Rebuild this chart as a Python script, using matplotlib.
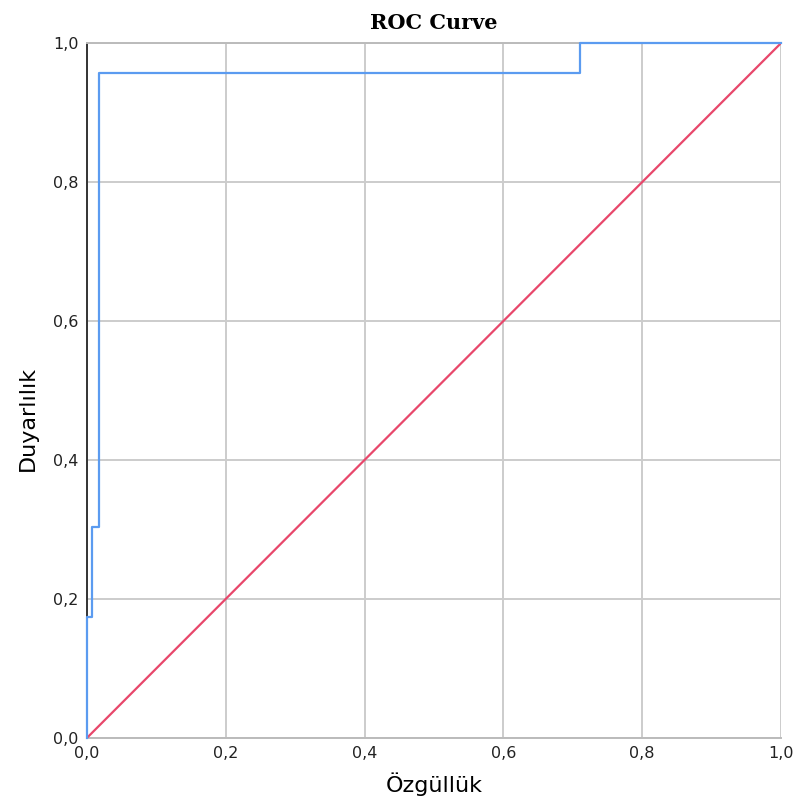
import matplotlib
matplotlib.use("Agg")
import matplotlib.pyplot as plt
from matplotlib.ticker import FuncFormatter

# ROC curve data (1 - specificity, sensitivity)
fpr = [0.0, 0.0, 0.007, 0.007, 0.017, 0.017, 0.710, 0.710, 1.0]
tpr = [0.0, 0.174, 0.174, 0.304, 0.304, 0.957, 0.957, 1.0, 1.0]
ref_x = [0.0, 1.0]
ref_y = [0.0, 1.0]
ticks = [0.0, 0.2, 0.4, 0.6, 0.8, 1.0]

fig = plt.figure(figsize=(7.97, 8.09), dpi=100)
ax = fig.add_axes([0.109, 0.0878, 0.871, 0.859])

ax.set_xlim(0, 1)
ax.set_ylim(0, 1)
ax.set_xticks(ticks)
ax.set_yticks(ticks)
fmt = FuncFormatter(lambda v, p: f"{v:.1f}".replace(".", ","))
ax.xaxis.set_major_formatter(fmt)
ax.yaxis.set_major_formatter(fmt)
ax.tick_params(length=0, labelsize=11.5, colors="#222222", pad=6)

ax.grid(True, color="#cccccc", linewidth=1.4)
ax.set_axisbelow(True)

for s in ["top", "right", "bottom"]:
    ax.spines[s].set_color("#bbbbbb")
    ax.spines[s].set_linewidth(1.4)
ax.spines["right"].set_visible(False)
ax.spines["left"].set_color("#333333")
ax.spines["left"].set_linewidth(1.4)

ax.plot(ref_x, ref_y, color="#e8476b", linewidth=1.6, zorder=3)
ax.plot(fpr, tpr, color="#5b9bf0", linewidth=1.6, zorder=4, clip_on=False)

ax.set_title("ROC Curve", fontfamily="DejaVu Serif", fontweight="bold", fontsize=15, pad=10)
ax.set_xlabel("Özgüllük", fontsize=16, labelpad=8)
ax.set_ylabel("Duyarlılık", fontsize=16)
ax.yaxis.set_label_coords(-0.07, 0.46)

fig.savefig("out.png", dpi=100)
